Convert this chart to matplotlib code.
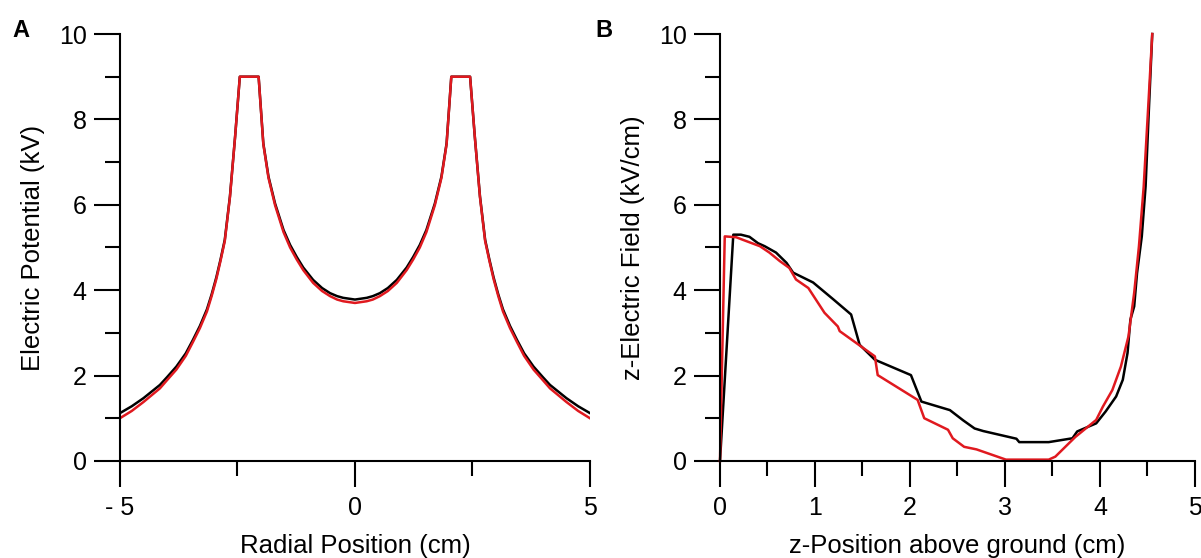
import matplotlib
matplotlib.use("Agg")
from matplotlib import pyplot as plt
from matplotlib.ticker import MultipleLocator

plt.rcParams['font.family'] = ['Liberation Sans', 'DejaVu Sans']

# panel A: electric potential vs radial position
radial = [-5.0, -4.75, -4.5, -4.15, -4.0, -3.8, -3.6, -3.45, -3.3, -3.15, -3.05, -2.95,
          -2.86, -2.77, -2.66, -2.55, -2.45, -2.05, -1.95, -1.84, -1.70, -1.52, -1.38,
          -1.24, -1.1, -0.89, -0.7, -0.53, -0.38, -0.25, 0.0, 0.25, 0.38, 0.53, 0.7, 0.89,
          1.1, 1.24, 1.38, 1.52, 1.70, 1.84, 1.95, 2.05, 2.45, 2.55, 2.66, 2.77, 2.86,
          2.95, 3.05, 3.15, 3.3, 3.45, 3.6, 3.8, 4.0, 4.15, 4.5, 4.75, 5.0]
pot_black = [1.12, 1.28, 1.47, 1.78, 1.96, 2.21, 2.52, 2.83, 3.16, 3.55, 3.90, 4.30,
             4.72, 5.18, 6.20, 7.60, 9.0, 9.0, 7.44, 6.66, 6.03, 5.41, 5.06,
             4.78, 4.53, 4.24, 4.05, 3.93, 3.86, 3.82, 3.78, 3.82, 3.86, 3.93, 4.05, 4.24,
             4.53, 4.78, 5.06, 5.41, 6.03, 6.66, 7.44, 9.0, 9.0, 7.60, 6.20, 5.18, 4.72,
             4.30, 3.90, 3.55, 3.16, 2.83, 2.52, 2.21, 1.96, 1.78, 1.47, 1.28, 1.12]
pot_red = [1.00, 1.17, 1.38, 1.70, 1.89, 2.14, 2.46, 2.78, 3.11, 3.50, 3.86, 4.26,
           4.69, 5.15, 6.18, 7.60, 9.0, 9.0, 7.42, 6.63, 5.99, 5.36, 5.00,
           4.72, 4.47, 4.17, 3.98, 3.86, 3.78, 3.74, 3.70, 3.74, 3.78, 3.86, 3.98, 4.17,
           4.47, 4.72, 5.00, 5.36, 5.99, 6.63, 7.42, 9.0, 9.0, 7.60, 6.18, 5.15, 4.69,
           4.26, 3.86, 3.50, 3.11, 2.78, 2.46, 2.14, 1.89, 1.70, 1.38, 1.17, 1.00]

# panel B: z electric field vs height
z_black = [0, 0.14, 0.22, 0.31, 0.40, 0.47, 0.59, 0.70, 0.77, 0.98, 1.19, 1.38, 1.47,
           1.63, 2.01, 2.12, 2.42, 2.56, 2.68, 2.77, 3.12, 3.15, 3.46, 3.71, 3.76, 3.96,
           4.06, 4.17, 4.24, 4.29, 4.32, 4.36, 4.39, 4.44, 4.48, 4.51, 4.55]
ez_black = [0, 5.30, 5.30, 5.25, 5.10, 5.03, 4.88, 4.64, 4.41, 4.18, 3.79, 3.43, 2.72,
            2.37, 2.01, 1.39, 1.19, 0.95, 0.76, 0.70, 0.52, 0.44, 0.44, 0.53, 0.69, 0.88,
            1.16, 1.51, 1.90, 2.53, 3.31, 3.62, 4.40, 5.26, 6.43, 8.0, 10.0]
z_red = [0, 0.05, 0.17, 0.24, 0.42, 0.52, 0.63, 0.73, 0.80, 0.93, 1.10, 1.24, 1.26,
         1.63, 1.66, 2.08, 2.15, 2.40, 2.45, 2.57, 2.70, 3.01, 3.46, 3.53, 3.74, 3.96,
         4.03, 4.13, 4.22, 4.30, 4.36, 4.41, 4.46, 4.51, 4.55]
ez_red = [0, 5.26, 5.24, 5.18, 5.03, 4.88, 4.68, 4.52, 4.25, 4.05, 3.47, 3.15, 3.04,
          2.45, 2.01, 1.43, 1.00, 0.73, 0.53, 0.33, 0.27, 0.03, 0.03, 0.10, 0.56, 0.96,
          1.27, 1.66, 2.21, 2.92, 3.94, 5.03, 6.43, 8.39, 10.0]

fig = plt.figure(figsize=(12.01, 5.58), dpi=100)
axA = fig.add_axes([0.0999, 0.174, 0.3913, 0.765])
axB = fig.add_axes([0.5995, 0.174, 0.3955, 0.765])


def style(ax):
    for s in ['top', 'right']:
        ax.spines[s].set_visible(False)
    for s in ['left', 'bottom']:
        ax.spines[s].set_linewidth(1.5)
    ax.tick_params(which='major', length=19, width=1.5, labelsize=18, direction='out')
    ax.tick_params(which='minor', length=11, width=1.5, direction='out')
    ax.tick_params(axis='x', pad=6)
    ax.tick_params(axis='y', pad=5)
    ax.set_ylim(0, 10)
    ax.yaxis.set_major_locator(MultipleLocator(2))
    ax.yaxis.set_minor_locator(MultipleLocator(1))


axA.plot(radial, pot_black, color='black', lw=1.8)
axA.plot(radial, pot_red, color='#e0191f', lw=1.8)
style(axA)
axA.set_xlim(-5, 5)
axA.set_xticks([-5, 0, 5])
axA.set_xticklabels(['- 5', '0', '5'])
axA.xaxis.set_minor_locator(MultipleLocator(2.5))
axA.set_xlabel('Radial Position (cm)', fontsize=18.5, labelpad=10)
axA.set_ylabel('Electric Potential (kV)', fontsize=18.5, labelpad=10)

axB.plot(z_black, ez_black, color='black', lw=1.8, clip_on=False)
axB.plot(z_red, ez_red, color='#e0191f', lw=1.8, clip_on=False)
style(axB)
axB.set_xlim(0, 5)
axB.xaxis.set_major_locator(MultipleLocator(1))
axB.xaxis.set_minor_locator(MultipleLocator(0.5))
axB.set_xlabel('z-Position above ground (cm)', fontsize=18.5, labelpad=10)
axB.set_ylabel('z-Electric Field (kV/cm)', fontsize=18.5, labelpad=10)

fig.text(0.010, 0.945, 'A', fontsize=17, fontweight='bold', va='center')
fig.text(0.496, 0.945, 'B', fontsize=17, fontweight='bold', va='center')

fig.savefig('out.png', dpi=100)
